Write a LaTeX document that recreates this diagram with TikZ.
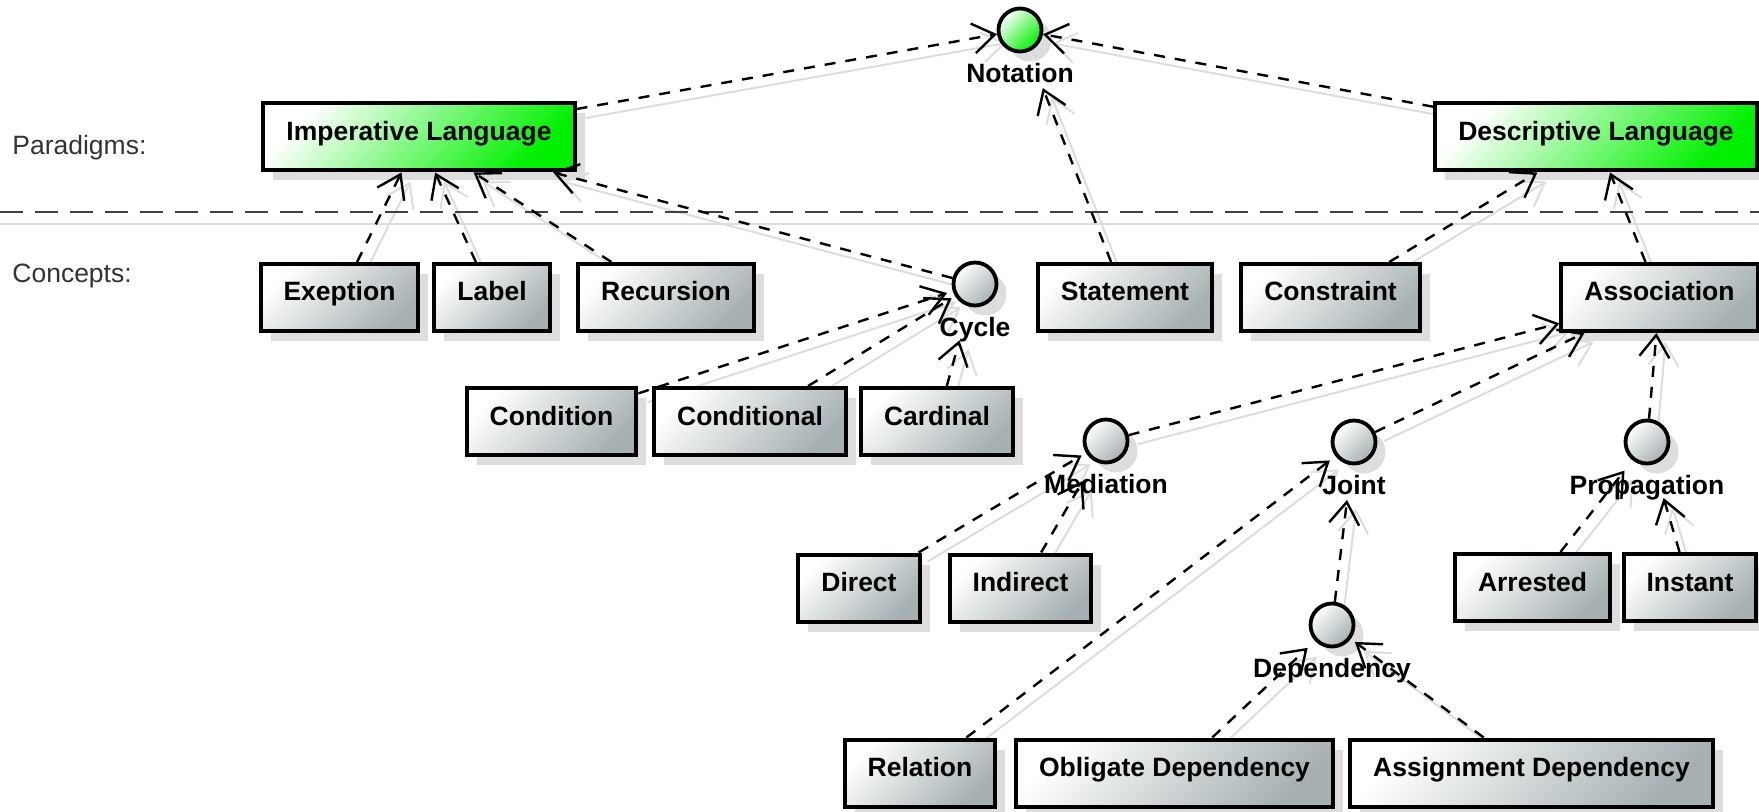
\documentclass[tikz,border=0pt]{standalone}
\usepackage{fontspec}
\setmainfont{Liberation Sans}
\usetikzlibrary{arrows.meta, positioning, shadows}

\definecolor{conceptgray}{RGB}{166,176,178}
\definecolor{paradigmgreen}{RGB}{0,240,0}
\definecolor{shadowgray}{RGB}{221,221,221}
\definecolor{sepgray}{RGB}{64,64,64}

\pgfdeclarelayer{background}
\pgfsetlayers{background,main}

\tikzset{
  umlfont/.style={font=\fontsize{13.25}{16}\selectfont},
  boldfont/.style={font=\fontsize{13.25}{16}\selectfont\bfseries},
  boxshadow/.style={drop shadow={shadow xshift=5pt, shadow yshift=-5pt, fill=shadowgray, opacity=1}},
  conceptbox/.style={rectangle, draw=black, line width=2pt, boldfont,
    inner xsep=11.5pt, inner ysep=0pt, minimum height=33.5pt,
    text height=9.5pt, text depth=6pt,
    top color=white, bottom color=conceptgray, shading angle=45, boxshadow},
  paradigmbox/.style={conceptbox, bottom color=paradigmgreen, shading angle=45},
  conceptiface/.style={circle, draw=black, line width=1.9pt, minimum size=21.5pt,
    inner sep=0pt, top color=white, bottom color=conceptgray, shading angle=45, boxshadow},
  paradigmiface/.style={conceptiface, bottom color=paradigmgreen, shading angle=45},
  ilabel/.style={boldfont, inner sep=0pt, outer sep=0pt, text height=9.5pt, text depth=2.5pt},
  sidetext/.style={umlfont, text=black!80, inner sep=0pt},
  sepline/.style={draw=sepgray, line width=1pt, dash pattern=on 11.5pt off 6pt},
  sepshadow/.style={draw=shadowgray, line width=1pt},
  realize/.style={draw=black, line width=1.2pt, dash pattern=on 5.5pt off 5pt,
    -{Straight Barb[length=11pt, width=15pt]}},
  realizeshadow/.style={draw=shadowgray, line width=1pt,
    -{Straight Barb[length=11pt, width=15pt]},
    transform canvas={shift={(4.5pt,-4.5pt)}}}
}

\begin{document}
\begin{tikzpicture}[x=0.5pt, y=-0.5pt]
\useasboundingbox (0,0) rectangle (1759,812);

% separator between the two levels
\draw[sepshadow] (0,224) -- (1759,224);
\draw[sepline] (0,212) -- (1759,212);

\node[sidetext, anchor=base west] (paradigms) at (12,155) {Paradigms:};
\node[sidetext, anchor=base west] (concepts) at (12,283) {Concepts:};

% paradigms
\node[paradigmiface] (notation) at (1020,30) {};
\node[ilabel, below=5pt of notation] (notation-l) {Notation};
\node[paradigmbox] (imperative) at (419,137) {Imperative Language};
\node[paradigmbox] (descriptive) at (1596,137) {Descriptive Language};

% concepts
\node[conceptbox] (exeption) at (339.5,297.5) {Exeption};
\node[conceptbox] (label) at (492,297.5) {Label};
\node[conceptbox] (recursion) at (666,297.5) {Recursion};
\node[conceptiface] (cycle) at (975,284) {};
\node[ilabel, below=5pt of cycle] (cycle-l) {Cycle};
\node[conceptbox] (statement) at (1125,297.5) {Statement};
\node[conceptbox] (constraint) at (1330.5,297.5) {Constraint};
\node[conceptbox] (association) at (1659.5,297.5) {Association};

\node[conceptbox] (condition) at (551.5,421.5) {Condition};
\node[conceptbox] (conditional) at (750,421.5) {Conditional};
\node[conceptbox] (cardinal) at (937,421.5) {Cardinal};
\node[conceptiface] (mediation) at (1106,441) {};
\node[ilabel, below=5pt of mediation] (mediation-l) {Mediation};
\node[conceptiface] (joint) at (1354,442) {};
\node[ilabel, below=5pt of joint] (joint-l) {Joint};
\node[conceptiface] (propagation) at (1647,442) {};
\node[ilabel, below=5pt of propagation] (propagation-l) {Propagation};

\node[conceptbox] (direct) at (859,588) {Direct};
\node[conceptbox] (indirect) at (1020.5,588) {Indirect};
\node[conceptbox] (arrested) at (1532.5,587.5) {Arrested};
\node[conceptbox] (instant) at (1690,587.5) {Instant};
\node[conceptiface] (dependency) at (1332,625) {};
\node[ilabel, below=5pt of dependency] (dependency-l) {Dependency};

\node[conceptbox] (relation) at (920,773) {Relation};
\node[conceptbox] (obligate) at (1174.5,773) {Obligate Dependency};
\node[conceptbox] (assignment) at (1531.5,773) {Assignment Dependency};

% realizations (shadow first, under the nodes)
\foreach \src/\dst/\sh in {imperative/notation/0pt, descriptive/notation/0pt,
    statement/notation/19.5pt, exeption/imperative/0pt, label/imperative/0pt,
    recursion/imperative/0pt, cycle/imperative/0pt, condition/cycle/3pt,
    conditional/cycle/2pt, cardinal/cycle/17.5pt, constraint/descriptive/0pt,
    association/descriptive/0pt, mediation/association/0pt, joint/association/0pt,
    propagation/association/0pt, direct/mediation/2.5pt, indirect/mediation/11.5pt,
    relation/joint/3.5pt, dependency/joint/17.5pt, arrested/propagation/6.5pt,
    instant/propagation/17.5pt, obligate/dependency/5pt, assignment/dependency/2.5pt}{
  \begin{pgfonlayer}{background}
    \draw[realizeshadow, shorten >=\sh] (\src) -- (\dst);
  \end{pgfonlayer}
  \draw[realize, shorten >=\sh] (\src) -- (\dst);
}
\end{tikzpicture}
\end{document}
